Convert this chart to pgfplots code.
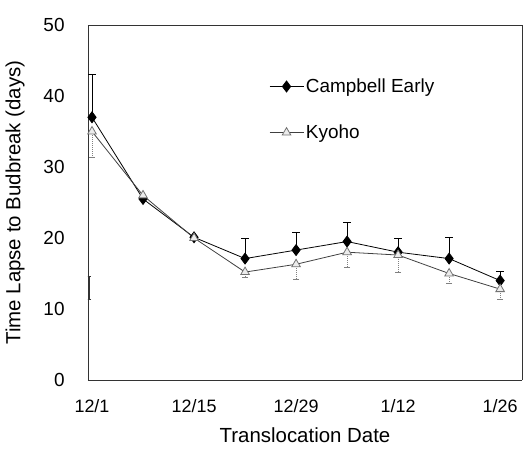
\documentclass[border=0pt]{standalone}
\usepackage{pgfplots}
\pgfplotsset{compat=1.18}
\usepackage{fontspec}
\setmainfont{Liberation Sans}
\usetikzlibrary{calc}

\begin{document}
\begin{tikzpicture}
\begin{axis}[
  scale only axis, width=434bp, height=355bp,
  xmin=-0.55, xmax=59, ymin=0, ymax=50,
  xtick={0,14,28,42,56}, xticklabels={12/1,12/15,12/29,1/12,1/26},
  ytick={0,10,20,30,40,50},
  major tick length=0pt,
  axis line style={draw=gray!60, line width=0.5pt},
  separate axis lines,
  x axis line style={draw=black!80},
  y axis line style={draw=black!80},
  /pgf/number format/assume math mode=true,
  xticklabel style={font=\fontsize{18}{20}\selectfont, yshift=-16pt},
  yticklabel style={font=\fontsize{19}{21}\selectfont, xshift=-20pt},
  xlabel={Translocation Date}, ylabel={Time Lapse to Budbreak (days)},
  label style={font=\fontsize{20.5}{23}\selectfont},
  xlabel style={yshift=-8pt},
  ylabel style={yshift=12pt},
  legend style={draw=none, fill=none, at={(0.41,0.86)}, anchor=north west,
    nodes={font=\fontsize{19}{21}\selectfont}, row sep=27pt},
  legend cell align=left,
  legend image code/.code={\draw[mark repeat=2, mark phase=2]
    plot coordinates {(0bp,0bp) (17bp,0bp) (34bp,0bp)};},
]
% Campbell Early (upper error bars)
\addplot[black, line width=0.8pt, mark=diamond*, mark size=5.5pt,
  mark options={fill=black},
  error bars/.cd, y dir=plus, y explicit,
  error bar style={black, line width=1pt},
  error mark options={rotate=90, mark size=4pt, black, line width=1pt}]
  coordinates {
  (0,37) +- (0,6)
  (7,25.5) +- (0,0)
  (14,20.1) +- (0,0)
  (21,17.1) +- (0,2.8)
  (28,18.3) +- (0,2.5)
  (35,19.5) +- (0,2.7)
  (42,18.0) +- (0,2.0)
  (49,17.1) +- (0,3.0)
  (56,14.0) +- (0,1.3)
  };
\addlegendentry{Campbell Early}
% Kyoho (lower error bars)
\addplot[black!75, line width=0.8pt, mark=triangle*, mark size=5pt,
  mark options={fill=gray!15, draw=black!55, solid},
  error bars/.cd, y dir=minus, y explicit,
  error bar style={gray, line width=1pt, densely dotted},
  error mark options={rotate=90, mark size=3pt, gray, line width=1pt}]
  coordinates {
  (0,35) +- (0,3.7)
  (7,26) +- (0,0)
  (14,20) +- (0,0)
  (21,15.2) +- (0,0.8)
  (28,16.3) +- (0,2.1)
  (35,18.0) +- (0,2.1)
  (42,17.6) +- (0,2.4)
  (49,15.0) +- (0,1.4)
  (56,12.8) +- (0,1.4)
  };
\addlegendentry{Kyoho}
% stray bar near the left axis
\addplot[draw=none, forget plot,
  error bars/.cd, y dir=both, y explicit,
  error bar style={black!80, line width=1.6pt},
  error mark options={rotate=90, mark size=2.5pt, black!80, line width=1pt}]
  coordinates {(-0.45,13) +- (0,1.6)};
\end{axis}
\path[use as bounding box] ($(current axis.south west)+(-88bp,-75bp)$) rectangle ($(current axis.north east)+(4bp,25bp)$);
\end{tikzpicture}
\end{document}
